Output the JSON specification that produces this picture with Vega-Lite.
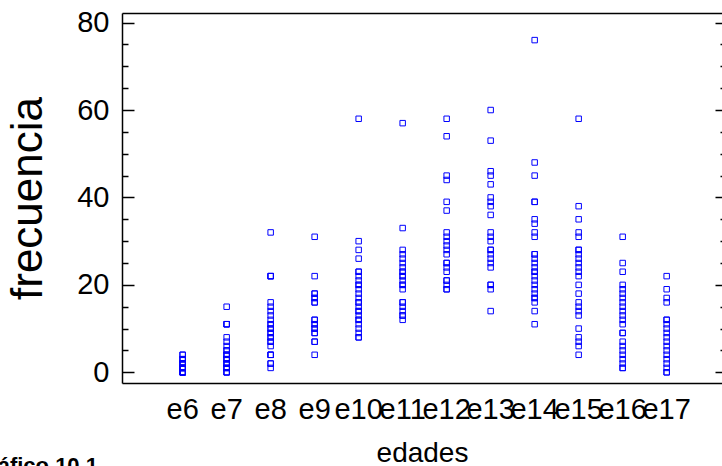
{
  "$schema": "https://vega.github.io/schema/vega-lite/v6.json",
  "autosize": "none",
  "padding": {"left": 122, "top": 13, "right": 0, "bottom": 83},
  "width": 600,
  "height": 370,
  "background": "#ffffff",
  "config": {
    "view": {"stroke": null},
    "font": "Liberation Sans"
  },
  "title": {
    "text": "Gráfico 10.1",
    "orient": "bottom",
    "anchor": "start",
    "frame": "group",
    "dx": -150,
    "offset": -11,
    "fontSize": 22,
    "fontWeight": "bold",
    "color": "#000000",
    "font": "Liberation Sans"
  },
  "datasets": {
    "puntos": [
      {"edad": "e6", "frecuencia": 0}, {"edad": "e6", "frecuencia": 0}, {"edad": "e6", "frecuencia": 0}, {"edad": "e6", "frecuencia": 0}, {"edad": "e6", "frecuencia": 0}, {"edad": "e6", "frecuencia": 0}, {"edad": "e6", "frecuencia": 0},
      {"edad": "e6", "frecuencia": 1}, {"edad": "e6", "frecuencia": 1}, {"edad": "e6", "frecuencia": 1}, {"edad": "e6", "frecuencia": 1}, {"edad": "e6", "frecuencia": 1}, {"edad": "e6", "frecuencia": 1},
      {"edad": "e6", "frecuencia": 2}, {"edad": "e6", "frecuencia": 2}, {"edad": "e6", "frecuencia": 2}, {"edad": "e6", "frecuencia": 2},
      {"edad": "e6", "frecuencia": 3}, {"edad": "e6", "frecuencia": 3}, {"edad": "e6", "frecuencia": 3},
      {"edad": "e6", "frecuencia": 4}, {"edad": "e6", "frecuencia": 4},

      {"edad": "e7", "frecuencia": 0}, {"edad": "e7", "frecuencia": 0}, {"edad": "e7", "frecuencia": 0},
      {"edad": "e7", "frecuencia": 1}, {"edad": "e7", "frecuencia": 1}, {"edad": "e7", "frecuencia": 1},
      {"edad": "e7", "frecuencia": 2}, {"edad": "e7", "frecuencia": 2}, {"edad": "e7", "frecuencia": 2},
      {"edad": "e7", "frecuencia": 3}, {"edad": "e7", "frecuencia": 3}, {"edad": "e7", "frecuencia": 3},
      {"edad": "e7", "frecuencia": 4}, {"edad": "e7", "frecuencia": 4}, {"edad": "e7", "frecuencia": 4},
      {"edad": "e7", "frecuencia": 5}, {"edad": "e7", "frecuencia": 5}, {"edad": "e7", "frecuencia": 6},
      {"edad": "e7", "frecuencia": 7}, {"edad": "e7", "frecuencia": 8},
      {"edad": "e7", "frecuencia": 11}, {"edad": "e7", "frecuencia": 11}, {"edad": "e7", "frecuencia": 11},
      {"edad": "e7", "frecuencia": 15},

      {"edad": "e8", "frecuencia": 1}, {"edad": "e8", "frecuencia": 2}, {"edad": "e8", "frecuencia": 2},
      {"edad": "e8", "frecuencia": 4}, {"edad": "e8", "frecuencia": 4}, {"edad": "e8", "frecuencia": 4},
      {"edad": "e8", "frecuencia": 6}, {"edad": "e8", "frecuencia": 7}, {"edad": "e8", "frecuencia": 7},
      {"edad": "e8", "frecuencia": 8}, {"edad": "e8", "frecuencia": 8}, {"edad": "e8", "frecuencia": 9},
      {"edad": "e8", "frecuencia": 9}, {"edad": "e8", "frecuencia": 10}, {"edad": "e8", "frecuencia": 10},
      {"edad": "e8", "frecuencia": 11}, {"edad": "e8", "frecuencia": 11}, {"edad": "e8", "frecuencia": 12},
      {"edad": "e8", "frecuencia": 13}, {"edad": "e8", "frecuencia": 14}, {"edad": "e8", "frecuencia": 15},
      {"edad": "e8", "frecuencia": 16}, {"edad": "e8", "frecuencia": 22}, {"edad": "e8", "frecuencia": 22},
      {"edad": "e8", "frecuencia": 22}, {"edad": "e8", "frecuencia": 32},

      {"edad": "e9", "frecuencia": 4}, {"edad": "e9", "frecuencia": 7}, {"edad": "e9", "frecuencia": 7},
      {"edad": "e9", "frecuencia": 9}, {"edad": "e9", "frecuencia": 9}, {"edad": "e9", "frecuencia": 10},
      {"edad": "e9", "frecuencia": 10}, {"edad": "e9", "frecuencia": 11}, {"edad": "e9", "frecuencia": 11},
      {"edad": "e9", "frecuencia": 12}, {"edad": "e9", "frecuencia": 12}, {"edad": "e9", "frecuencia": 16},
      {"edad": "e9", "frecuencia": 16}, {"edad": "e9", "frecuencia": 17}, {"edad": "e9", "frecuencia": 17},
      {"edad": "e9", "frecuencia": 18}, {"edad": "e9", "frecuencia": 18}, {"edad": "e9", "frecuencia": 22},
      {"edad": "e9", "frecuencia": 31},

      {"edad": "e10", "frecuencia": 8}, {"edad": "e10", "frecuencia": 8}, {"edad": "e10", "frecuencia": 9},
      {"edad": "e10", "frecuencia": 10}, {"edad": "e10", "frecuencia": 11}, {"edad": "e10", "frecuencia": 12},
      {"edad": "e10", "frecuencia": 12}, {"edad": "e10", "frecuencia": 13}, {"edad": "e10", "frecuencia": 14},
      {"edad": "e10", "frecuencia": 14}, {"edad": "e10", "frecuencia": 15}, {"edad": "e10", "frecuencia": 16},
      {"edad": "e10", "frecuencia": 16}, {"edad": "e10", "frecuencia": 17}, {"edad": "e10", "frecuencia": 18},
      {"edad": "e10", "frecuencia": 19}, {"edad": "e10", "frecuencia": 20}, {"edad": "e10", "frecuencia": 20},
      {"edad": "e10", "frecuencia": 21}, {"edad": "e10", "frecuencia": 22}, {"edad": "e10", "frecuencia": 23},
      {"edad": "e10", "frecuencia": 23}, {"edad": "e10", "frecuencia": 26}, {"edad": "e10", "frecuencia": 28},
      {"edad": "e10", "frecuencia": 30}, {"edad": "e10", "frecuencia": 58},

      {"edad": "e11", "frecuencia": 12}, {"edad": "e11", "frecuencia": 13}, {"edad": "e11", "frecuencia": 13},
      {"edad": "e11", "frecuencia": 14}, {"edad": "e11", "frecuencia": 15}, {"edad": "e11", "frecuencia": 16},
      {"edad": "e11", "frecuencia": 16}, {"edad": "e11", "frecuencia": 19}, {"edad": "e11", "frecuencia": 20},
      {"edad": "e11", "frecuencia": 20}, {"edad": "e11", "frecuencia": 21}, {"edad": "e11", "frecuencia": 22},
      {"edad": "e11", "frecuencia": 22}, {"edad": "e11", "frecuencia": 23}, {"edad": "e11", "frecuencia": 23},
      {"edad": "e11", "frecuencia": 24}, {"edad": "e11", "frecuencia": 25}, {"edad": "e11", "frecuencia": 26},
      {"edad": "e11", "frecuencia": 27}, {"edad": "e11", "frecuencia": 28}, {"edad": "e11", "frecuencia": 33},
      {"edad": "e11", "frecuencia": 57},

      {"edad": "e12", "frecuencia": 19}, {"edad": "e12", "frecuencia": 19}, {"edad": "e12", "frecuencia": 20},
      {"edad": "e12", "frecuencia": 21}, {"edad": "e12", "frecuencia": 21}, {"edad": "e12", "frecuencia": 23},
      {"edad": "e12", "frecuencia": 24}, {"edad": "e12", "frecuencia": 25}, {"edad": "e12", "frecuencia": 25},
      {"edad": "e12", "frecuencia": 27}, {"edad": "e12", "frecuencia": 28}, {"edad": "e12", "frecuencia": 29},
      {"edad": "e12", "frecuencia": 30}, {"edad": "e12", "frecuencia": 31}, {"edad": "e12", "frecuencia": 32},
      {"edad": "e12", "frecuencia": 37}, {"edad": "e12", "frecuencia": 39}, {"edad": "e12", "frecuencia": 44},
      {"edad": "e12", "frecuencia": 45}, {"edad": "e12", "frecuencia": 54}, {"edad": "e12", "frecuencia": 58},

      {"edad": "e13", "frecuencia": 14}, {"edad": "e13", "frecuencia": 19}, {"edad": "e13", "frecuencia": 20},
      {"edad": "e13", "frecuencia": 20}, {"edad": "e13", "frecuencia": 24}, {"edad": "e13", "frecuencia": 25},
      {"edad": "e13", "frecuencia": 26}, {"edad": "e13", "frecuencia": 27}, {"edad": "e13", "frecuencia": 28},
      {"edad": "e13", "frecuencia": 28}, {"edad": "e13", "frecuencia": 30}, {"edad": "e13", "frecuencia": 31},
      {"edad": "e13", "frecuencia": 32}, {"edad": "e13", "frecuencia": 36}, {"edad": "e13", "frecuencia": 38},
      {"edad": "e13", "frecuencia": 39}, {"edad": "e13", "frecuencia": 40}, {"edad": "e13", "frecuencia": 43},
      {"edad": "e13", "frecuencia": 45}, {"edad": "e13", "frecuencia": 46}, {"edad": "e13", "frecuencia": 53},
      {"edad": "e13", "frecuencia": 60},

      {"edad": "e14", "frecuencia": 11}, {"edad": "e14", "frecuencia": 14}, {"edad": "e14", "frecuencia": 16},
      {"edad": "e14", "frecuencia": 17}, {"edad": "e14", "frecuencia": 17}, {"edad": "e14", "frecuencia": 18},
      {"edad": "e14", "frecuencia": 19}, {"edad": "e14", "frecuencia": 20}, {"edad": "e14", "frecuencia": 21},
      {"edad": "e14", "frecuencia": 22}, {"edad": "e14", "frecuencia": 23}, {"edad": "e14", "frecuencia": 23},
      {"edad": "e14", "frecuencia": 24}, {"edad": "e14", "frecuencia": 25}, {"edad": "e14", "frecuencia": 26},
      {"edad": "e14", "frecuencia": 27}, {"edad": "e14", "frecuencia": 27}, {"edad": "e14", "frecuencia": 31},
      {"edad": "e14", "frecuencia": 32}, {"edad": "e14", "frecuencia": 34}, {"edad": "e14", "frecuencia": 35},
      {"edad": "e14", "frecuencia": 39}, {"edad": "e14", "frecuencia": 39}, {"edad": "e14", "frecuencia": 45},
      {"edad": "e14", "frecuencia": 48}, {"edad": "e14", "frecuencia": 76},

      {"edad": "e15", "frecuencia": 4}, {"edad": "e15", "frecuencia": 6}, {"edad": "e15", "frecuencia": 7},
      {"edad": "e15", "frecuencia": 8}, {"edad": "e15", "frecuencia": 10}, {"edad": "e15", "frecuencia": 13},
      {"edad": "e15", "frecuencia": 14}, {"edad": "e15", "frecuencia": 15}, {"edad": "e15", "frecuencia": 16},
      {"edad": "e15", "frecuencia": 18}, {"edad": "e15", "frecuencia": 20}, {"edad": "e15", "frecuencia": 22},
      {"edad": "e15", "frecuencia": 23}, {"edad": "e15", "frecuencia": 24}, {"edad": "e15", "frecuencia": 25},
      {"edad": "e15", "frecuencia": 26}, {"edad": "e15", "frecuencia": 27}, {"edad": "e15", "frecuencia": 28},
      {"edad": "e15", "frecuencia": 28}, {"edad": "e15", "frecuencia": 31}, {"edad": "e15", "frecuencia": 32},
      {"edad": "e15", "frecuencia": 35}, {"edad": "e15", "frecuencia": 38}, {"edad": "e15", "frecuencia": 58},

      {"edad": "e16", "frecuencia": 1}, {"edad": "e16", "frecuencia": 1}, {"edad": "e16", "frecuencia": 2},
      {"edad": "e16", "frecuencia": 3}, {"edad": "e16", "frecuencia": 4}, {"edad": "e16", "frecuencia": 5},
      {"edad": "e16", "frecuencia": 6}, {"edad": "e16", "frecuencia": 7}, {"edad": "e16", "frecuencia": 9},
      {"edad": "e16", "frecuencia": 9}, {"edad": "e16", "frecuencia": 11}, {"edad": "e16", "frecuencia": 12},
      {"edad": "e16", "frecuencia": 13}, {"edad": "e16", "frecuencia": 14}, {"edad": "e16", "frecuencia": 15},
      {"edad": "e16", "frecuencia": 16}, {"edad": "e16", "frecuencia": 17}, {"edad": "e16", "frecuencia": 18},
      {"edad": "e16", "frecuencia": 19}, {"edad": "e16", "frecuencia": 20}, {"edad": "e16", "frecuencia": 23},
      {"edad": "e16", "frecuencia": 25}, {"edad": "e16", "frecuencia": 31},

      {"edad": "e17", "frecuencia": 0}, {"edad": "e17", "frecuencia": 0}, {"edad": "e17", "frecuencia": 1},
      {"edad": "e17", "frecuencia": 2}, {"edad": "e17", "frecuencia": 3}, {"edad": "e17", "frecuencia": 4},
      {"edad": "e17", "frecuencia": 5}, {"edad": "e17", "frecuencia": 6}, {"edad": "e17", "frecuencia": 7},
      {"edad": "e17", "frecuencia": 8}, {"edad": "e17", "frecuencia": 9}, {"edad": "e17", "frecuencia": 10},
      {"edad": "e17", "frecuencia": 11}, {"edad": "e17", "frecuencia": 12}, {"edad": "e17", "frecuencia": 12},
      {"edad": "e17", "frecuencia": 16}, {"edad": "e17", "frecuencia": 17}, {"edad": "e17", "frecuencia": 19},
      {"edad": "e17", "frecuencia": 22}
    ]
  },
  "data": {"name": "puntos"},
  "layer": [
    {
      "mark": {"type": "point", "shape": "square", "filled": false, "size": 30, "stroke": "#0000ff", "strokeWidth": 1, "opacity": 1},
      "encoding": {
        "x": {
          "field": "edad", "type": "nominal",
          "sort": ["e6", "e7", "e8", "e9", "e10", "e11", "e12", "e13", "e14", "e15", "e16", "e17"],
          "scale": {"type": "band", "paddingInner": 0, "paddingOuter": 0.818, "align": 0.537},
          "axis": {
            "title": "edades", "orient": "bottom", "labelAngle": 0, "ticks": false, "grid": false,
            "domain": true, "domainColor": "#000000", "domainWidth": 1.5,
            "labelFontSize": 29, "labelColor": "#000000", "labelPadding": 12, "labelOverlap": false,
            "titleFontSize": 28, "titleFontWeight": "normal", "titleColor": "#000000", "titlePadding": 15
          }
        },
        "y": {
          "field": "frecuencia", "type": "quantitative",
          "scale": {"domain": [-2.45, 82.2], "nice": false, "zero": false},
          "axis": {
            "title": "frecuencia", "orient": "left", "grid": false,
            "domain": true, "domainColor": "#000000", "domainWidth": 1.5,
            "values": [0, 5, 10, 15, 20, 25, 30, 35, 40, 45, 50, 55, 60, 65, 70, 75, 80],
            "labelExpr": "datum.value % 20 === 0 ? datum.label : ''",
            "tickSize": {"condition": {"test": "datum.value % 20 === 0", "value": -12}, "value": -6},
            "tickColor": "#000000", "tickWidth": 1.5,
            "labelFontSize": 29, "labelColor": "#000000", "labelPadding": 25,
            "titleFontSize": 44, "titleFontWeight": "normal", "titleColor": "#000000", "titlePadding": 26
          }
        }
      }
    },
    {
      "mark": {"type": "point", "opacity": 0},
      "encoding": {
        "x": {
          "field": "edad", "type": "nominal",
          "sort": ["e6", "e7", "e8", "e9", "e10", "e11", "e12", "e13", "e14", "e15", "e16", "e17"],
          "axis": {
            "title": null, "orient": "top", "labels": false, "ticks": false, "grid": false,
            "domain": true, "domainColor": "#000000", "domainWidth": 1.5
          }
        },
        "y": {
          "field": "frecuencia", "type": "quantitative",
          "axis": {
            "title": null, "orient": "right", "grid": false, "domain": false, "labels": false,
            "values": [0, 5, 10, 15, 20, 25, 30, 35, 40, 45, 50, 55, 60, 65, 70, 75, 80],
            "tickSize": {"condition": {"test": "datum.value % 20 === 0", "value": -7}, "value": -2},
            "tickColor": "#000000", "tickWidth": 1.5
          }
        }
      }
    }
  ],
  "resolve": {"axis": {"x": "independent", "y": "independent"}}
}
